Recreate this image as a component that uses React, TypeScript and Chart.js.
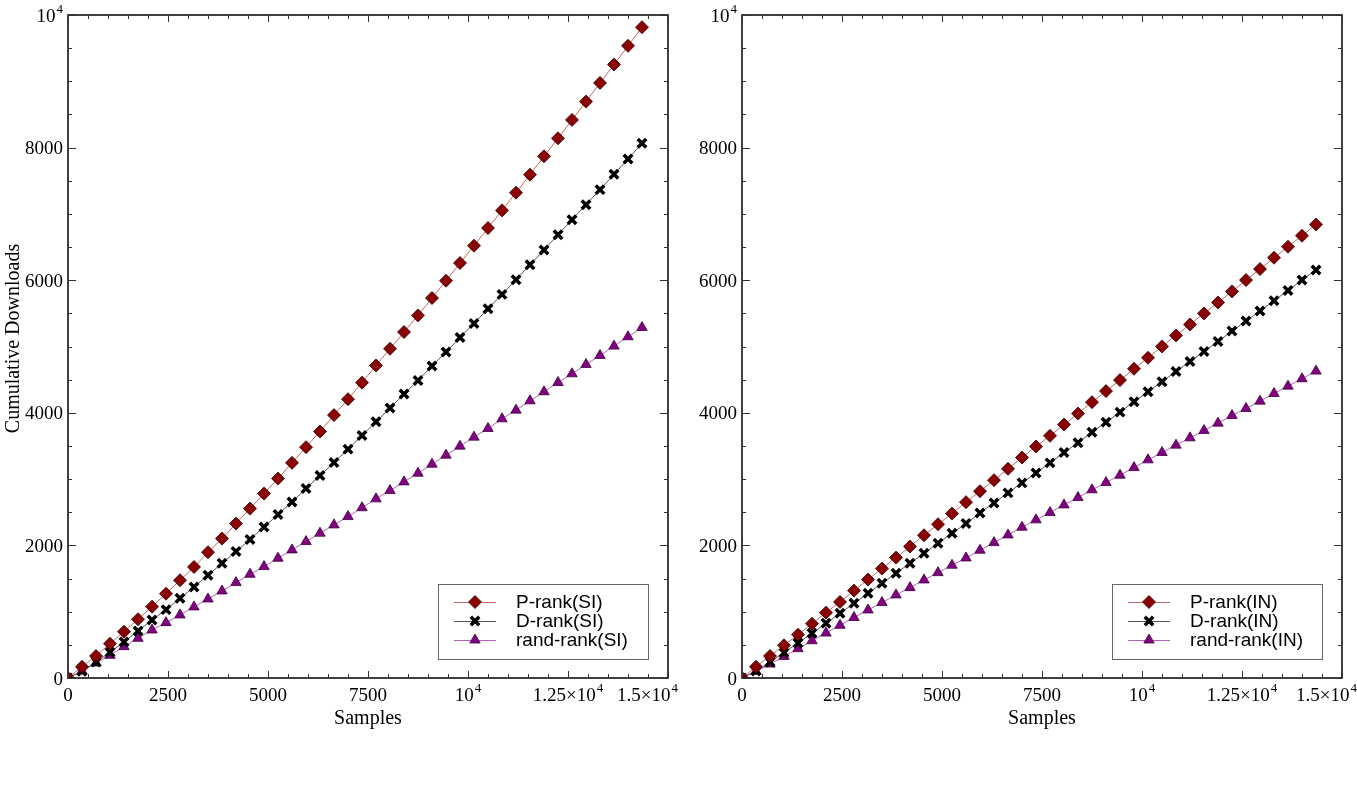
import React, { useEffect, useRef } from "react";
import { Chart, registerables } from "chart.js";

Chart.register(...registerables);

// ---------- data ----------
const samples = [
  0, 350, 700, 1050, 1400, 1750, 2100, 2450, 2800, 3150, 3500, 3850, 4200, 4550,
  4900, 5250, 5600, 5950, 6300, 6650, 7000, 7350, 7700, 8050, 8400, 8750, 9100,
  9450, 9800, 10150, 10500, 10850, 11200, 11550, 11900, 12250, 12600, 12950,
  13300, 13650, 14000, 14350,
];

const pRankSI = [
  0, 170, 332, 518, 699, 886, 1076, 1272, 1474, 1675, 1897, 2103, 2329, 2555,
  2782, 3008, 3245, 3482, 3718, 3965, 4206, 4455, 4714, 4966, 5218, 5469, 5731,
  5992, 6259, 6521, 6787, 7053, 7320, 7592, 7869, 8140, 8418, 8694, 8976, 9253,
  9535, 9816,
];
const dRankSI = [
  0, 100, 241, 387, 543, 709, 875, 1031, 1202, 1373, 1550, 1731, 1907, 2088,
  2279, 2465, 2656, 2857, 3053, 3250, 3452, 3657, 3864, 4071, 4282, 4488, 4705,
  4916, 5137, 5348, 5570, 5786, 6007, 6234, 6455, 6686, 6913, 7139, 7366, 7597,
  7829, 8065,
];
const randRankSI = [
  0, 105, 225, 342, 473, 599, 724, 835, 951, 1072, 1192, 1313, 1439, 1565, 1680,
  1807, 1932, 2058, 2184, 2309, 2435, 2568, 2702, 2827, 2958, 3089, 3225, 3361,
  3497, 3633, 3763, 3909, 4040, 4181, 4317, 4457, 4588, 4729, 4865, 5006, 5147,
  5287,
];

const pRankIN = [
  0, 170, 332, 493, 654, 820, 986, 1147, 1318, 1484, 1650, 1816, 1982, 2153,
  2319, 2480, 2652, 2818, 2984, 3155, 3325, 3491, 3653, 3823, 3989, 4161, 4327,
  4493, 4664, 4830, 5001, 5167, 5333, 5499, 5665, 5831, 6002, 6168, 6339, 6505,
  6671, 6842,
];
const dRankIN = [
  0, 106, 241, 382, 528, 674, 825, 976, 1127, 1278, 1429, 1580, 1731, 1882, 2033,
  2184, 2329, 2490, 2641, 2792, 2943, 3092, 3245, 3401, 3547, 3708, 3859, 4010,
  4166, 4317, 4468, 4623, 4774, 4925, 5076, 5233, 5384, 5535, 5690, 5846, 6002,
  6154,
];
const randRankIN = [
  0, 100, 210, 325, 442, 562, 678, 795, 912, 1026, 1137, 1253, 1363, 1479, 1589,
  1701, 1811, 1927, 2042, 2158, 2274, 2385, 2495, 2611, 2721, 2838, 2948, 3059,
  3174, 3290, 3401, 3512, 3622, 3733, 3844, 3959, 4065, 4176, 4291, 4402, 4513,
  4629,
];

const xMajorTicks = [0, 2500, 5000, 7500, 10000, 12500, 15000];
const xTickLabels = ["0", "2500", "5000", "7500", "10^4", "1.25×10^4", "1.5×10^4"];
const yMajorTicks = [0, 2000, 4000, 6000, 8000, 10000];
const yTickLabels = ["0", "2000", "4000", "6000", "8000", "10^4"];
const minorStep = 500;

const legendSI = ["P-rank(SI)", "D-rank(SI)", "rand-rank(SI)"];
const legendIN = ["P-rank(IN)", "D-rank(IN)", "rand-rank(IN)"];

const xTitle = "Samples";
const yTitle = "Cumulative Downloads";

// ---------- styles ----------
const SERIF = '"Liberation Serif", "Times New Roman", serif';
const SANS = '"Liberation Sans", Arial, sans-serif';
const P_LINE = "#c86868";
const P_FILL = "#8b0000";
const P_EDGE = "#2a0000";
const D_LINE = "#555555";
const D_FILL = "#000000";
const R_LINE = "#b860b8";
const R_FILL = "#820082";
const R_EDGE = "#3c003c";

function drawMathLabel(
  ctx: CanvasRenderingContext2D,
  text: string,
  x: number,
  y: number,
  align: "center" | "right",
  clampRight?: number
) {
  const parts = text.split("^");
  const base = parts[0];
  const exp = parts[1];
  const baseFont = `19px ${SERIF}`;
  const expFont = `13px ${SERIF}`;
  ctx.font = baseFont;
  const wb = ctx.measureText(base).width;
  let we = 0;
  if (exp) {
    ctx.font = expFont;
    we = ctx.measureText(exp).width + 1;
  }
  const total = wb + we;
  let left = align === "center" ? x - total / 2 : x - total;
  if (clampRight !== undefined && left + total > clampRight) left = clampRight - total;
  ctx.textAlign = "left";
  ctx.textBaseline = "alphabetic";
  ctx.fillStyle = "#000";
  ctx.font = baseFont;
  ctx.fillText(base, left, y);
  if (exp) {
    ctx.font = expFont;
    ctx.fillText(exp, left + wb + 1, y - 9);
  }
}

function drawMarker(ctx: CanvasRenderingContext2D, kind: number, x: number, y: number) {
  ctx.save();
  if (kind === 0) {
    const r = 6.5;
    ctx.beginPath();
    ctx.moveTo(x, y - r);
    ctx.lineTo(x + r, y);
    ctx.lineTo(x, y + r);
    ctx.lineTo(x - r, y);
    ctx.closePath();
    ctx.fillStyle = P_FILL;
    ctx.fill();
    ctx.strokeStyle = P_EDGE;
    ctx.lineWidth = 0.8;
    ctx.stroke();
  } else if (kind === 1) {
    const d = 4.2;
    ctx.beginPath();
    ctx.moveTo(x - d, y - d);
    ctx.lineTo(x + d, y + d);
    ctx.moveTo(x + d, y - d);
    ctx.lineTo(x - d, y + d);
    ctx.strokeStyle = D_FILL;
    ctx.lineWidth = 3.5;
    ctx.stroke();
  } else {
    const r = 6;
    ctx.beginPath();
    ctx.moveTo(x, y - r);
    ctx.lineTo(x + r * 0.866, y + r * 0.5);
    ctx.lineTo(x - r * 0.866, y + r * 0.5);
    ctx.closePath();
    ctx.fillStyle = R_FILL;
    ctx.fill();
    ctx.strokeStyle = R_EDGE;
    ctx.lineWidth = 0.8;
    ctx.stroke();
  }
  ctx.restore();
}

const framePlugin = {
  id: "frame",
  afterDraw(chart: any, _args: any, opts: any) {
    const ctx: CanvasRenderingContext2D = chart.ctx;
    const ca = chart.chartArea;
    const xs = chart.scales.x;
    const ys = chart.scales.y;
    ctx.save();

    // frame
    ctx.strokeStyle = "#111";
    ctx.lineWidth = 1.6;
    ctx.strokeRect(ca.left, ca.top, ca.right - ca.left, ca.bottom - ca.top);

    // ticks (inward, all four sides)
    ctx.lineWidth = 1;
    ctx.strokeStyle = "#333";
    ctx.beginPath();
    for (let v = xs.min; v <= xs.max + 0.001; v += minorStep) {
      const major = xMajorTicks.includes(v);
      const len = major ? 7 : 4;
      const px = Math.round(xs.getPixelForValue(v)) + 0.5;
      ctx.moveTo(px, ca.bottom);
      ctx.lineTo(px, ca.bottom - len);
      ctx.moveTo(px, ca.top);
      ctx.lineTo(px, ca.top + len);
    }
    for (let v = ys.min; v <= ys.max + 0.001; v += minorStep) {
      const major = yMajorTicks.includes(v);
      const len = major ? 8 : 4;
      const py = Math.round(ys.getPixelForValue(v)) + 0.5;
      ctx.moveTo(ca.left, py);
      ctx.lineTo(ca.left + len, py);
      ctx.moveTo(ca.right, py);
      ctx.lineTo(ca.right - len, py);
    }
    ctx.stroke();

    // tick labels
    xMajorTicks.forEach((v, i) => {
      drawMathLabel(ctx, xTickLabels[i], xs.getPixelForValue(v), ca.bottom + 23, "center", chart.width);
    });
    yMajorTicks.forEach((v, i) => {
      drawMathLabel(ctx, yTickLabels[i], ca.left - 5, ys.getPixelForValue(v) + 6.5, "right");
    });

    // axis titles
    ctx.fillStyle = "#000";
    ctx.font = `20px ${SERIF}`;
    ctx.textAlign = "center";
    ctx.textBaseline = "alphabetic";
    ctx.fillText(xTitle, (ca.left + ca.right) / 2, ca.bottom + 46);
    if (opts.showYTitle) {
      ctx.save();
      ctx.translate(19, (ca.top + ca.bottom) / 2 - 8);
      ctx.rotate(-Math.PI / 2);
      ctx.fillText(yTitle, 0, 0);
      ctx.restore();
    }

    // legend
    const labels: string[] = opts.legend;
    const bw = 210;
    const bh = 75;
    const bx = ca.right - 20 - bw;
    const by = ca.bottom - 19 - bh;
    ctx.fillStyle = "#fff";
    ctx.fillRect(bx, by, bw, bh);
    ctx.strokeStyle = "#666";
    ctx.lineWidth = 1;
    ctx.strokeRect(Math.round(bx) + 0.5, Math.round(by) + 0.5, bw, bh);
    const lineColors = [P_LINE, D_LINE, R_LINE];
    labels.forEach((lab, i) => {
      const cy = by + 18 + i * 19;
      ctx.strokeStyle = lineColors[i];
      ctx.lineWidth = 1;
      ctx.beginPath();
      ctx.moveTo(bx + 16, cy + 0.5);
      ctx.lineTo(bx + 58, cy + 0.5);
      ctx.stroke();
      drawMarker(ctx, i, bx + 37, cy);
      ctx.fillStyle = "#000";
      ctx.font = `19px ${SANS}`;
      ctx.textAlign = "left";
      ctx.textBaseline = "middle";
      ctx.fillText(lab, bx + 78, cy + 1);
    });

    ctx.restore();
  },
};

type PanelProps = {
  left: number;
  width: number;
  padLeft: number;
  padRight: number;
  p: number[];
  d: number[];
  r: number[];
  legend: string[];
  showYTitle: boolean;
};

function Panel(props: PanelProps) {
  const ref = useRef<HTMLCanvasElement | null>(null);
  useEffect(() => {
    if (!ref.current) return;
    const mk = (arr: number[]) => samples.map((x, i) => ({ x, y: arr[i] }));
    const chart = new Chart(ref.current, {
      type: "line",
      data: {
        datasets: [
          {
            label: props.legend[0],
            data: mk(props.p),
            borderColor: P_LINE,
            borderWidth: 1,
            pointStyle: "rectRot",
            pointRadius: 6.5,
            pointBackgroundColor: P_FILL,
            pointBorderColor: P_EDGE,
            pointBorderWidth: 0.8,
            tension: 0,
          },
          {
            label: props.legend[1],
            data: mk(props.d),
            borderColor: D_LINE,
            borderWidth: 1,
            pointStyle: "crossRot",
            pointRadius: 6,
            pointBackgroundColor: D_FILL,
            pointBorderColor: D_FILL,
            pointBorderWidth: 3.5,
            tension: 0,
          },
          {
            label: props.legend[2],
            data: mk(props.r),
            borderColor: R_LINE,
            borderWidth: 1,
            pointStyle: "triangle",
            pointRadius: 6,
            pointBackgroundColor: R_FILL,
            pointBorderColor: R_EDGE,
            pointBorderWidth: 0.8,
            tension: 0,
          },
        ],
      },
      options: {
        animation: false,
        responsive: false,
        maintainAspectRatio: false,
        layout: { padding: { left: props.padLeft, right: props.padRight, top: 15, bottom: 134 } },
        scales: {
          x: { type: "linear", min: 0, max: 15000, display: false },
          y: { type: "linear", min: 0, max: 10000, display: false },
        },
        plugins: {
          legend: { display: false },
          tooltip: { enabled: false },
          // @ts-ignore
          frame: { legend: props.legend, showYTitle: props.showYTitle },
        },
      } as any,
      plugins: [framePlugin as any],
    });
    return () => chart.destroy();
  }, []);
  return (
    <canvas
      ref={ref}
      width={props.width}
      height={812}
      style={{ position: "absolute", left: props.left, top: 0, width: props.width, height: 812 }}
    />
  );
}

export default function App() {
  return (
    <div style={{ position: "fixed", left: 0, top: 0, width: 1357, height: 812, background: "#fff", overflow: "hidden" }}>
      <Panel left={0} width={678} padLeft={68} padRight={10} p={pRankSI} d={dRankSI} r={randRankSI} legend={legendSI} showYTitle={true} />
      <Panel left={678} width={679} padLeft={64} padRight={15} p={pRankIN} d={dRankIN} r={randRankIN} legend={legendIN} showYTitle={false} />
    </div>
  );
}
